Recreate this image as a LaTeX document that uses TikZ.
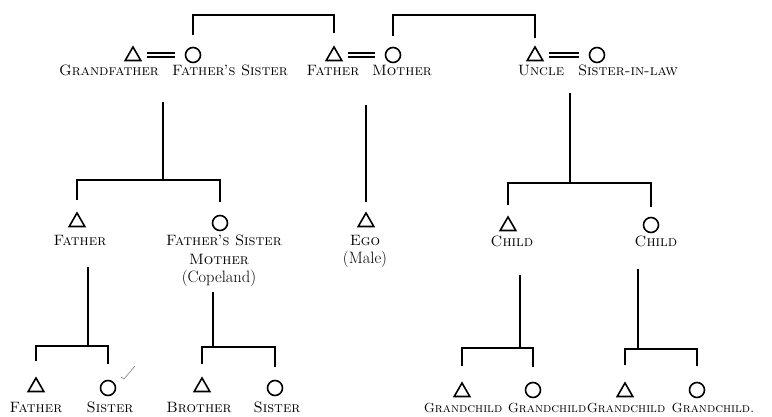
\documentclass[tikz,border=0pt]{standalone}
\usepackage{tikz}
\usetikzlibrary{shapes.geometric}

\begin{document}
\begin{tikzpicture}[x=1pt,y=-1pt,
    male/.style={draw, line width=1.6pt, regular polygon, regular polygon sides=3,
      minimum size=18pt, inner sep=0pt},
    female/.style={draw, line width=1.6pt, circle, minimum size=15pt, inner sep=0pt},
    lbl/.style={anchor=base, inner sep=0pt, font=\fontsize{15}{18}\selectfont\scshape},
    small lbl/.style={lbl, font=\fontsize{13.2}{16}\selectfont\scshape},
    note/.style={anchor=base, inner sep=0pt, font=\fontsize{16.5}{18}\selectfont},
    kin/.style={line width=1.5pt}]
      \useasboundingbox (0,0) rectangle (772,417);

      % first generation, two couples and the uncle
      \node[male] (gf) at (133,56) {};
      \node[female] (fs) at (193,55) {};
      \node[male] (fa) at (334,56) {};
      \node[female] (mo) at (393,55) {};
      \node[male] (un) at (535,56) {};
      \node[female] (sl) at (597,55) {};
      \node[lbl] (gf-l) at (109,76) {Grandfather};
      \node[lbl] (fs-l) at (230,76) {Father's Sister};
      \node[lbl] (fa-l) at (333,76) {Father};
      \node[lbl] (mo-l) at (402,76) {Mother};
      \node[lbl] (un-l) at (541,76) {Uncle};
      \node[lbl] (sl-l) at (628,76) {Sister-in-law};

      % marriages
      \foreach \m/\f in {gf/fs, fa/mo, un/sl} {
        \coordinate (\m-eq) at (\m.east |- \f.west);
        \draw[kin] ([xshift=8pt,yshift=2pt]\m-eq) -- ([xshift=-10pt,yshift=2pt]\f.west);
        \draw[kin] ([xshift=8pt,yshift=-2pt]\m-eq) -- ([xshift=-10pt,yshift=-2pt]\f.west);
      }

      % sibling links on top
      \coordinate (top1) at (263,15);
      \coordinate (top2) at (465,15);
      \draw[kin] ([yshift=12pt]fs.north) |- (top1) -| ([yshift=12pt]fa.north);
      \draw[kin] ([yshift=11pt]mo.north) |- (top2) -| ([yshift=7pt]un.north);

      % second generation
      \node[male] (fa2) at (77,222) {};
      \node[female] (fs2) at (220,223) {};
      \node[male] (ego) at (366,222) {};
      \node[male] (ch1) at (508,226) {};
      \node[female] (ch2) at (651,225) {};
      \node[lbl] (fa2-l) at (80,246) {Father};
      \node[lbl] (fs2-l) at (224,246) {Father's Sister};
      \node[lbl] (fs2-m) at (219,265) {Mother};
      \node[note] (fs2-n) at (219,282) {(Copeland)};
      \node[lbl] (ego-l) at (365,246) {Ego};
      \node[note] (ego-n) at (365,263) {(Male)};
      \node[lbl] (ch1-l) at (512,247) {Child};
      \node[lbl] (ch2-l) at (656,247) {Child};

      \coordinate (d1) at (163,102);
      \coordinate (j1) at (163,180);
      \draw[kin] (d1) -- (j1);
      \draw[kin] ([yshift=11pt]fa2.north) |- (j1) -| ([yshift=13pt]fs2.north);
      \coordinate (d2) at (366,105);
      \draw[kin] (d2) -- ([yshift=9pt]ego.north);
      \coordinate (d3) at (570,93);
      \coordinate (j3) at (570,183);
      \draw[kin] (d3) -- (j3);
      \draw[kin] ([yshift=10pt]ch1.north) |- (j3) -| ([yshift=10pt]ch2.north);

      % third generation
      \node[male] (fa3) at (36,387) {};
      \node[female] (si3) at (108,388) {};
      \node[male] (br3) at (202,387) {};
      \node[female] (si4) at (275,388) {};
      \node[male] (gc1) at (462,392) {};
      \node[female] (gc2) at (533,390) {};
      \node[male] (gc3) at (625,392) {};
      \node[female] (gc4) at (697,390) {};
      \node[lbl] (fa3-l) at (36,412) {Father};
      \node[lbl] (si3-l) at (110,412) {Sister};
      \node[lbl] (br3-l) at (199,412) {Brother};
      \node[lbl] (si4-l) at (277,412) {Sister};
      \node[small lbl] (gc1-l) at (463,412) {Grandchild};
      \node[small lbl] (gc2-l) at (547,412) {Grandchild};
      \node[small lbl] (gc3-l) at (626,412) {Grandchild};
      \node[small lbl] (gc4-l) at (713,412) {Grandchild.};

      \coordinate (d4) at (88,267);
      \coordinate (j4) at (88,346);
      \draw[kin] (d4) -- (j4);
      \draw[kin] ([yshift=15pt]fa3.north) |- (j4) -| ([yshift=16pt]si3.north);
      \coordinate (d5) at (213,292);
      \coordinate (j5) at (213,347);
      \draw[kin] (d5) -- (j5);
      \draw[kin] ([yshift=12pt]br3.north) |- (j5) -| ([yshift=13pt]si4.north);
      \coordinate (d6) at (520,275);
      \coordinate (j6) at (520,348);
      \draw[kin] (d6) -- (j6);
      \draw[kin] ([yshift=15pt]gc1.north) |- (j6) -| ([yshift=15pt]gc2.north);
      \coordinate (d7) at (638,269);
      \coordinate (j7) at (638,349);
      \draw[kin] (d7) -- (j7);
      \draw[kin] ([yshift=16pt]gc3.north) |- (j7) -| ([yshift=16pt]gc4.north);

      % pencil tick by the sister
      \draw[gray, line width=0.6pt] (121,377) -- (124,379) -- (135,366);
\end{tikzpicture}
\end{document}
